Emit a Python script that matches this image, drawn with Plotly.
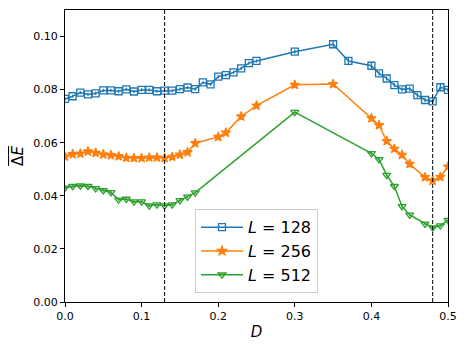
import plotly.graph_objects as go

# L = 128
d_128 = [0.00, 0.01, 0.02, 0.03, 0.04, 0.05, 0.06, 0.07, 0.08, 0.09, 0.10, 0.11, 0.12, 0.13,
         0.14, 0.15, 0.16, 0.17, 0.18, 0.19, 0.20, 0.21, 0.22, 0.23, 0.24, 0.25, 0.30, 0.35,
         0.37, 0.40, 0.41, 0.42, 0.43, 0.44, 0.45, 0.46, 0.47, 0.48, 0.49, 0.50]
e_128 = [0.0765, 0.0775, 0.0789, 0.0782, 0.0786, 0.0797, 0.0797, 0.0794, 0.0801, 0.0793, 0.0799,
         0.0799, 0.0794, 0.0796, 0.0796, 0.0802, 0.0808, 0.0802, 0.0827, 0.0820, 0.0849, 0.0855,
         0.0865, 0.0880, 0.0900, 0.0908, 0.0943, 0.0971, 0.0908, 0.0890, 0.0861, 0.0842, 0.0817,
         0.0801, 0.0804, 0.0779, 0.0761, 0.0756, 0.0809, 0.0799]
err_128 = [0.0006, 0.0006, 0.0006, 0.0006, 0.0006, 0.0006, 0.0006, 0.0006, 0.0006, 0.0006, 0.0006,
           0.0006, 0.0006, 0.0006, 0.0006, 0.0006, 0.0006, 0.0006, 0.0006, 0.0006, 0.0006, 0.0006,
           0.0006, 0.0006, 0.0006, 0.0006, 0.0008, 0.0012, 0.0012, 0.0012, 0.0008, 0.0008, 0.0008,
           0.0008, 0.0008, 0.0010, 0.0008, 0.0010, 0.0012, 0.0008]

# L = 256
d_256 = [0.00, 0.01, 0.02, 0.03, 0.04, 0.05, 0.06, 0.07, 0.08, 0.09, 0.10, 0.11, 0.12, 0.13,
         0.14, 0.15, 0.16, 0.17, 0.20, 0.21, 0.23, 0.25, 0.30, 0.35, 0.40, 0.41, 0.42, 0.43,
         0.44, 0.45, 0.47, 0.48, 0.49, 0.50]
e_256 = [0.0548, 0.0557, 0.0559, 0.0567, 0.0562, 0.0556, 0.0553, 0.0549, 0.0543, 0.0542, 0.0542,
         0.0544, 0.0544, 0.0542, 0.0547, 0.0555, 0.0564, 0.0598, 0.0622, 0.0638, 0.0699, 0.0740,
         0.0818, 0.0821, 0.0692, 0.0666, 0.0606, 0.0577, 0.0554, 0.0520, 0.0470, 0.0457, 0.0471,
         0.0510]
err_256 = [0.0005] * 24 + [0.0008, 0.0008, 0.0008, 0.0012, 0.0012, 0.0008, 0.0006, 0.0006, 0.0006,
                           0.0008]

# L = 512
d_512 = [0.00, 0.01, 0.02, 0.03, 0.04, 0.05, 0.06, 0.07, 0.08, 0.09, 0.10, 0.11, 0.12, 0.13,
         0.14, 0.15, 0.16, 0.17, 0.30, 0.40, 0.41, 0.42, 0.43, 0.44, 0.45, 0.47, 0.48, 0.49, 0.50]
e_512 = [0.0430, 0.0436, 0.0438, 0.0436, 0.0428, 0.0420, 0.0413, 0.0385, 0.0388, 0.0378, 0.0378,
         0.0363, 0.0367, 0.0363, 0.0367, 0.0383, 0.0396, 0.0412, 0.0715, 0.0560, 0.0537, 0.0478,
         0.0436, 0.0360, 0.0328, 0.0294, 0.0280, 0.0288, 0.0308]
err_512 = [0.0005] * 29

series = [
    ("<i>L</i> = 128", d_128, e_128, err_128, "#1f77b4", "square-open"),
    ("<i>L</i> = 256", d_256, e_256, err_256, "#ff7f0e", "star"),
    ("<i>L</i> = 512", d_512, e_512, err_512, "#2ca02c", "triangle-down-open"),
]

v_lines = [0.13, 0.48]

fig = go.Figure()

for name, xs, ys, errs, color, symbol in series:
    fig.add_trace(go.Scatter(
        x=xs, y=ys,
        mode="lines+markers",
        name=name,
        line=dict(color=color, width=1.5),
        marker=dict(symbol=symbol, size=7, color=color, line=dict(width=1.3, color=color)),
        error_y=dict(type="data", array=errs, visible=True, color=color, thickness=1.2, width=0),
    ))

# 虚线
for xv in v_lines:
    fig.add_shape(type="line", x0=xv, x1=xv, y0=0, y1=1, xref="x", yref="paper",
                  line=dict(color="black", width=1, dash="4px,2px"))

axis_style = dict(
    showgrid=False, zeroline=False, showline=True, mirror=True,
    linecolor="black", linewidth=1, ticks="outside", ticklen=4, tickcolor="black",
    tickfont=dict(family="DejaVu Sans", size=11, color="black"),
)

fig.update_layout(
    width=469, height=351,
    margin=dict(l=57, r=29, t=2, b=57),
    plot_bgcolor="white", paper_bgcolor="white",
    xaxis=dict(range=[0, 0.5], tickvals=[0, 0.1, 0.2, 0.3, 0.4, 0.5], tickformat=".1f",
               title=dict(text="<i>D</i>", font=dict(family="DejaVu Sans", size=15, color="black"),
                          standoff=4),
               **axis_style),
    yaxis=dict(range=[0, 0.11], tickvals=[0, 0.02, 0.04, 0.06, 0.08, 0.10], tickformat=".2f",
               title=dict(text="<span style='text-decoration:overline'>Δ<i>E</i></span>",
                          font=dict(family="DejaVu Sans", size=15, color="black"), standoff=6),
               **axis_style),
    legend=dict(x=0.5, y=0.03, xanchor="center", yanchor="bottom", itemwidth=42,
                bgcolor="rgba(255,255,255,0.8)", bordercolor="#cccccc", borderwidth=1,
                font=dict(family="DejaVu Sans", size=16, color="black")),
)

fig.write_html("out.html")
